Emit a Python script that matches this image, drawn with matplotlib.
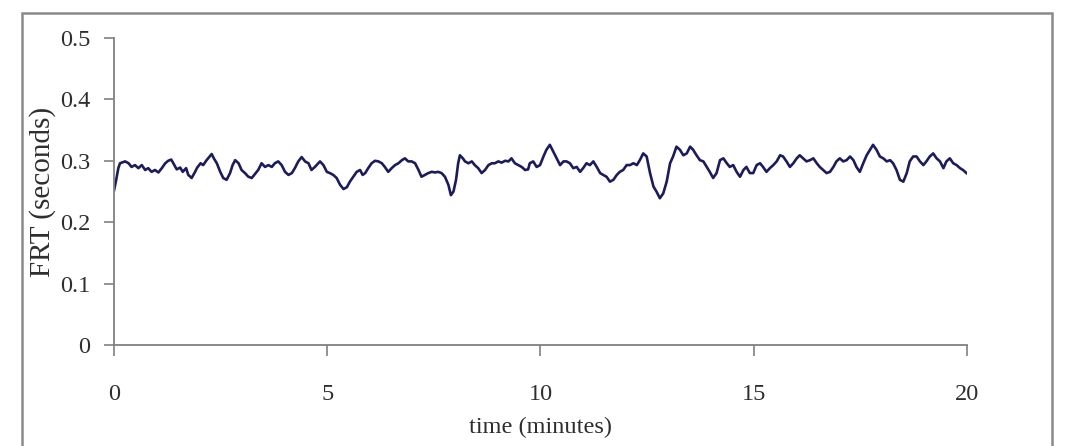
import matplotlib
matplotlib.use("Agg")
import matplotlib.pyplot as plt
from matplotlib.patches import Rectangle

plt.rcParams['font.family'] = ['Liberation Serif', 'DejaVu Serif']

# FRT readings (time in minutes, FRT in seconds)
t_min = [
    0.00, 0.05, 0.10, 0.14, 0.26, 0.34, 0.41, 0.49, 0.57, 0.65, 0.73, 0.80,
    0.88, 0.96, 1.04, 1.12, 1.20, 1.27, 1.34, 1.39, 1.47, 1.55, 1.61, 1.69,
    1.74, 1.82, 1.90, 1.95, 2.03, 2.09, 2.17, 2.24, 2.29, 2.34, 2.41, 2.49,
    2.56, 2.64, 2.72, 2.78, 2.84, 2.92, 2.99, 3.07, 3.15, 3.23, 3.31, 3.38,
    3.46, 3.54, 3.62, 3.70, 3.77, 3.85, 3.93, 4.01, 4.09, 4.17, 4.24, 4.32,
    4.40, 4.48, 4.56, 4.63, 4.71, 4.79,
    4.83, 4.91, 4.99, 5.06, 5.14, 5.22, 5.30, 5.38, 5.46, 5.53, 5.61, 5.69,
    5.77, 5.83, 5.89, 5.96, 6.04, 6.12, 6.20, 6.28, 6.35, 6.43, 6.51, 6.59,
    6.67, 6.75, 6.82, 6.90, 6.98, 7.06, 7.14, 7.21, 7.29, 7.37, 7.45, 7.53,
    7.60, 7.68, 7.76, 7.84, 7.90, 7.96, 8.02, 8.07, 8.11, 8.18, 8.23, 8.31,
    8.39, 8.46, 8.54, 8.62, 8.70, 8.78, 8.86, 8.93, 9.01, 9.09, 9.17, 9.25,
    9.32, 9.40, 9.48, 9.56, 9.64, 9.71,
    9.75, 9.83, 9.91, 9.99, 10.07, 10.14, 10.22, 10.30, 10.38, 10.46, 10.54,
    10.61, 10.69, 10.77, 10.85, 10.93, 11.00, 11.08, 11.16, 11.24, 11.32,
    11.40, 11.47, 11.55, 11.63, 11.71, 11.79, 11.86, 11.94, 12.02, 12.10,
    12.18, 12.26, 12.33, 12.41, 12.49, 12.57, 12.65, 12.72, 12.80, 12.88,
    12.96, 13.04, 13.11, 13.19, 13.27, 13.35, 13.43, 13.51, 13.58, 13.66,
    13.74, 13.82, 13.90, 13.97, 14.05, 14.13, 14.21, 14.29, 14.37, 14.44,
    14.52, 14.60,
    14.68, 14.76, 14.83, 14.91, 14.99, 15.07, 15.15, 15.22, 15.30, 15.38,
    15.46, 15.54, 15.62, 15.69, 15.77, 15.85, 15.93, 16.01, 16.08, 16.16,
    16.24, 16.32, 16.40, 16.48, 16.55, 16.63, 16.71, 16.79, 16.87, 16.94,
    17.02, 17.10, 17.18, 17.26, 17.34, 17.41, 17.49, 17.57, 17.65, 17.73,
    17.80, 17.88, 17.96, 18.04, 18.12, 18.20, 18.27, 18.35, 18.43, 18.51,
    18.59, 18.66, 18.74, 18.82, 18.90, 18.98, 19.05, 19.13, 19.21, 19.29,
    19.37, 19.45, 19.52, 19.60, 19.68, 19.76, 19.84, 19.91, 19.99,
]
frt_s = [
    0.252, 0.269, 0.288, 0.296, 0.299, 0.296, 0.290, 0.293, 0.288, 0.293, 0.285, 0.288,
    0.282, 0.285, 0.281, 0.288, 0.296, 0.300, 0.302, 0.296, 0.286, 0.289, 0.282, 0.288,
    0.277, 0.272, 0.282, 0.289, 0.296, 0.293, 0.301, 0.307, 0.311, 0.304, 0.296, 0.282,
    0.272, 0.269, 0.280, 0.293, 0.301, 0.296, 0.285, 0.280, 0.274, 0.272, 0.279, 0.285,
    0.296, 0.290, 0.293, 0.290, 0.296, 0.299, 0.293, 0.282, 0.277, 0.280, 0.288, 0.299,
    0.306, 0.299, 0.296, 0.285, 0.290, 0.296,
    0.299, 0.293, 0.282, 0.280, 0.277, 0.272, 0.261, 0.254, 0.257, 0.266, 0.274, 0.282,
    0.285, 0.277, 0.280, 0.288, 0.296, 0.300, 0.299, 0.296, 0.290, 0.282, 0.288, 0.293,
    0.296, 0.301, 0.304, 0.299, 0.299, 0.296, 0.285, 0.274, 0.277, 0.280, 0.282, 0.281,
    0.282, 0.280, 0.274, 0.261, 0.244, 0.250, 0.269, 0.296, 0.309, 0.304, 0.299, 0.296,
    0.299, 0.293, 0.288, 0.280, 0.285, 0.293, 0.296, 0.296, 0.299, 0.297, 0.300, 0.299,
    0.304, 0.296, 0.293, 0.290, 0.285, 0.286,
    0.296, 0.299, 0.290, 0.293, 0.307, 0.318, 0.326, 0.315, 0.304, 0.293, 0.299,
    0.299, 0.296, 0.288, 0.290, 0.282, 0.288, 0.296, 0.293, 0.299, 0.290,
    0.280, 0.277, 0.274, 0.266, 0.269, 0.277, 0.282, 0.285, 0.293, 0.293,
    0.296, 0.293, 0.301, 0.312, 0.307, 0.280, 0.258, 0.250, 0.239, 0.247,
    0.266, 0.296, 0.307, 0.323, 0.318, 0.309, 0.312, 0.323, 0.318, 0.309,
    0.301, 0.299, 0.290, 0.282, 0.272, 0.280, 0.301, 0.304, 0.296, 0.290,
    0.293, 0.282,
    0.274, 0.285, 0.290, 0.280, 0.280, 0.293, 0.296, 0.290, 0.282, 0.288,
    0.293, 0.299, 0.309, 0.307, 0.299, 0.290, 0.296, 0.304, 0.309, 0.304,
    0.299, 0.301, 0.304, 0.296, 0.290, 0.285, 0.280, 0.282, 0.290, 0.299,
    0.304, 0.299, 0.301, 0.307, 0.301, 0.290, 0.282, 0.296, 0.309, 0.318,
    0.326, 0.318, 0.307, 0.304, 0.299, 0.301, 0.296, 0.285, 0.269, 0.266,
    0.280, 0.299, 0.307, 0.307, 0.299, 0.293, 0.299, 0.307, 0.312, 0.304,
    0.299, 0.288, 0.299, 0.304, 0.296, 0.293, 0.288, 0.285, 0.280,
]

x_ticks = [0, 5, 10, 15, 20]
y_ticks = [0, 0.1, 0.2, 0.3, 0.4, 0.5]
y_tick_labels = ["0", "0.1", "0.2", "0.3", "0.4", "0.5"]

grey = "#808080"
text_col = "#2e2e2e"

fig = plt.figure(figsize=(10.66, 4.46), dpi=100)
ax = fig.add_axes([0.107, 0.2265, 0.8, 0.6883])

ax.plot(t_min, frt_s, color="#1c1c5c", linewidth=1.9)

ax.set_xlim(0, 20)
ax.set_ylim(0, 0.5)
ax.set_xticks(x_ticks)
ax.set_yticks(y_ticks)
ax.set_yticklabels(y_tick_labels)

for side in ["top", "right"]:
    ax.spines[side].set_visible(False)
for side in ["left", "bottom"]:
    ax.spines[side].set_color(grey)
    ax.spines[side].set_linewidth(1.3)

ax.tick_params(axis="y", length=7, width=1.2, color=grey, pad=10,
               labelsize=17.5, labelcolor=text_col)
ax.tick_params(axis="x", length=8, width=1.2, color=grey, pad=20,
               labelsize=17.5, labelcolor=text_col)

ax.set_xlabel("time (minutes)", fontsize=17.5, color=text_col, labelpad=9)
ax.set_ylabel("FRT (seconds)", fontsize=21, color=text_col, labelpad=3)

# outer frame around the whole chart
frame = Rectangle((22 / 1066, -0.05), 1030 / 1066, 1.05 - 13 / 446,
                  transform=fig.transFigure, fill=False,
                  edgecolor="#8a8a8a", linewidth=1.8, clip_on=False)
fig.patches.append(frame)

fig.savefig("out.png", dpi=100)
